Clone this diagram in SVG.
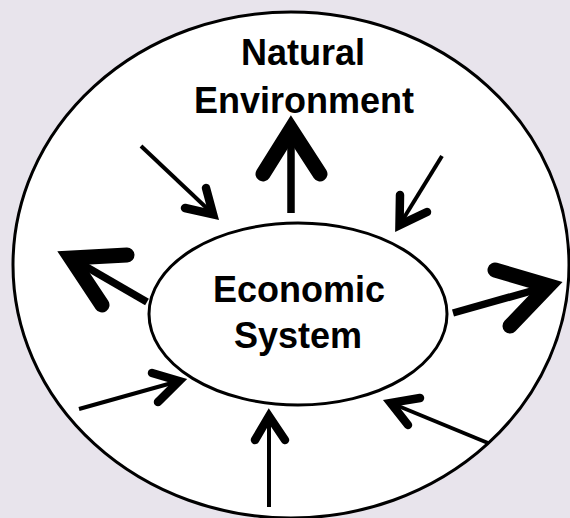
<svg xmlns="http://www.w3.org/2000/svg" width="570" height="518" viewBox="0 0 570 518">
  <style>
    .lbl { font-family: "Liberation Sans", Arial, sans-serif; font-weight: bold; font-size: 36px; fill: #000; text-anchor: middle; }
    .ell { fill: #fff; stroke: #000; stroke-width: 3; }
    .shaft-thick { stroke: #000; stroke-width: 7.5; fill: none; stroke-linecap: butt; }
    .head-thick { stroke: #000; stroke-width: 15; fill: none; stroke-linecap: round; stroke-linejoin: miter; stroke-miterlimit: 10; }
    .shaft-thin { stroke: #000; stroke-width: 4; fill: none; stroke-linecap: butt; }
    .head-thin { stroke: #000; stroke-width: 8.5; fill: none; stroke-linecap: round; stroke-linejoin: miter; stroke-miterlimit: 10; }
  </style>
  <rect x="0" y="0" width="570" height="518" fill="#e8e4ec"/>
  <g id="natural-environment">
    <ellipse class="ell" cx="291" cy="265" rx="278" ry="253"/>
    <text class="lbl" x="303" y="65">Natural</text>
    <text class="lbl" x="304" y="113">Environment</text>
  </g>
  <g id="economic-system">
    <ellipse class="ell" cx="298" cy="314" rx="149" ry="91"/>
    <text class="lbl" x="299" y="302">Economic</text>
    <text class="lbl" x="298" y="348">System</text>
  </g>
  <g id="connectors">
    <line class="shaft-thick" x1="291" y1="213" x2="291" y2="129"/>
    <polyline class="head-thick" points="263,174 291,129.2 320,174"/>
    <line class="shaft-thick" x1="147" y1="302" x2="71" y2="258"/>
    <polyline class="head-thick" points="127,255 70.8,258 102,305"/>
    <line class="shaft-thick" x1="453" y1="313" x2="549" y2="286"/>
    <polyline class="head-thick" points="495,270 548.6,285.8 510,326"/>
    <line class="shaft-thin" x1="141" y1="146" x2="213" y2="214"/>
    <polyline class="head-thin" points="206,188 213.1,214.3 185,208"/>
    <line class="shaft-thin" x1="442" y1="156" x2="399.5" y2="225"/>
    <polyline class="head-thin" points="400,195 399.5,225.1 427,212"/>
    <line class="shaft-thin" x1="79" y1="409" x2="179" y2="381"/>
    <polyline class="head-thin" points="152,373 179.1,381 158,402"/>
    <line class="shaft-thin" x1="488" y1="443" x2="391" y2="403"/>
    <polyline class="head-thin" points="420,398 390.7,402.9 408,425"/>
    <line class="shaft-thin" x1="269" y1="507" x2="269" y2="416"/>
    <polyline class="head-thin" points="255,440 269,416.2 285,440"/>
  </g>
</svg>
